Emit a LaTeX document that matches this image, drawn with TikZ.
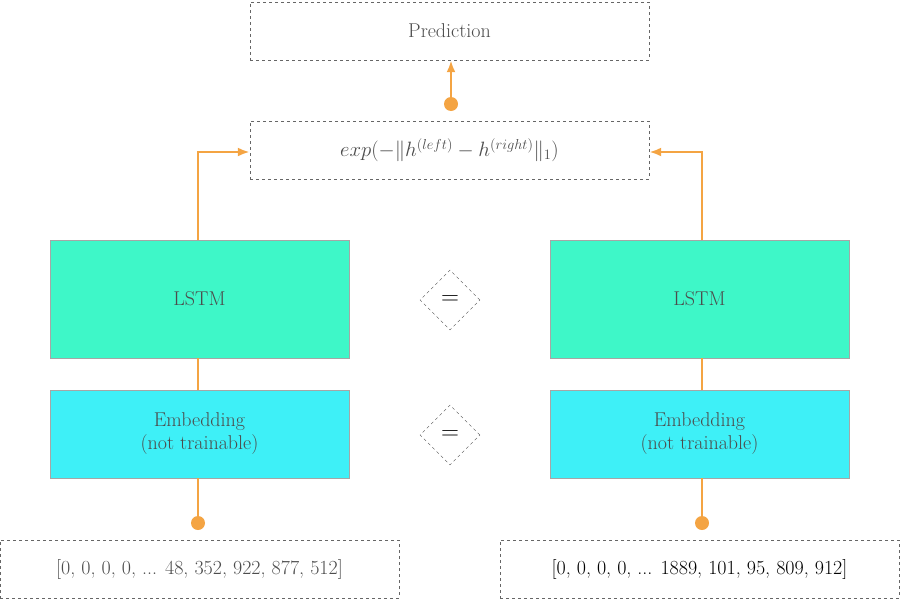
\documentclass[tikz,border=0pt]{standalone}
\usetikzlibrary{arrows.meta,shapes.geometric}
\begin{document}
\begin{tikzpicture}[x=1pt,y=-1pt,
  box/.style={draw=black!60,dashed,minimum width=399pt,minimum height=58pt,inner sep=0pt,text=black!70,font=\fontsize{20}{24}\selectfont},
  lstm/.style={draw=black!35,fill=lstmc,minimum width=299pt,minimum height=118pt,inner sep=0pt,text=black!70,font=\fontsize{20}{24}\selectfont},
  emb/.style={draw=black!35,fill=embc,minimum width=299pt,minimum height=88pt,inner sep=0pt,text=black!70,align=center,font=\fontsize{20}{23}\selectfont},
  dia/.style={draw=black!70,dashed,diamond,minimum width=60pt,minimum height=60pt,inner sep=0pt,font=\fontsize{34}{36}\selectfont},
  con/.style={draw=orc,line width=2.5pt},
  dot/.style={circle,fill=orc,minimum size=14pt,inner sep=0pt},
  arr/.style={con,-{Latex[length=12pt,width=9pt]}}]
\definecolor{lstmc}{HTML}{3EF7C8}
\definecolor{embc}{HTML}{3EF0F7}
\definecolor{orc}{HTML}{F4A443}
\useasboundingbox (0,0) rectangle (900,600);
\node[box] (pred) at (449.5,31) {Prediction};
\node[box,font=\fontsize{22}{24}\selectfont] (exp) at (449.5,150) {$exp(-\Vert h^{(left)}-h^{(right)}\Vert_1)$};
\node[lstm] (l1) at (199.5,299) {LSTM};
\node[lstm] (l2) at (699.5,299) {LSTM};
\node[emb] (e1) at (199.5,434) {Embedding\\(not trainable)};
\node[emb] (e2) at (699.5,434) {Embedding\\(not trainable)};
\node[box] (i1) at (199.5,569) {[0, 0, 0, 0, ... 48, 352, 922, 877, 512]};
\node[box,text=black] (i2) at (699.5,569) {[0, 0, 0, 0, ... 1889, 101, 95, 809, 912]};
\node[dia] (d1) at (450,300) {$=$};
\node[dia] (d2) at (450,435) {$=$};
\node[dot] (p1) at (198,523) {};
\node[dot] (p2) at (702,523) {};
\node[dot] (p3) at (451,104) {};
\draw[con] (p1.center) -- (198,478);
\draw[con] (p2.center) -- (702,478);
\draw[con] (198,390) -- (198,358);
\draw[con] (702,390) -- (702,358);
\draw[arr] (198,240) -- (198,152) -- (exp.west |- 0,152);
\draw[arr] (702,240) -- (702,152) -- (exp.east |- 0,152);
\draw[arr] (p3.center) -- (pred.south -| p3);
\end{tikzpicture}
\end{document}
